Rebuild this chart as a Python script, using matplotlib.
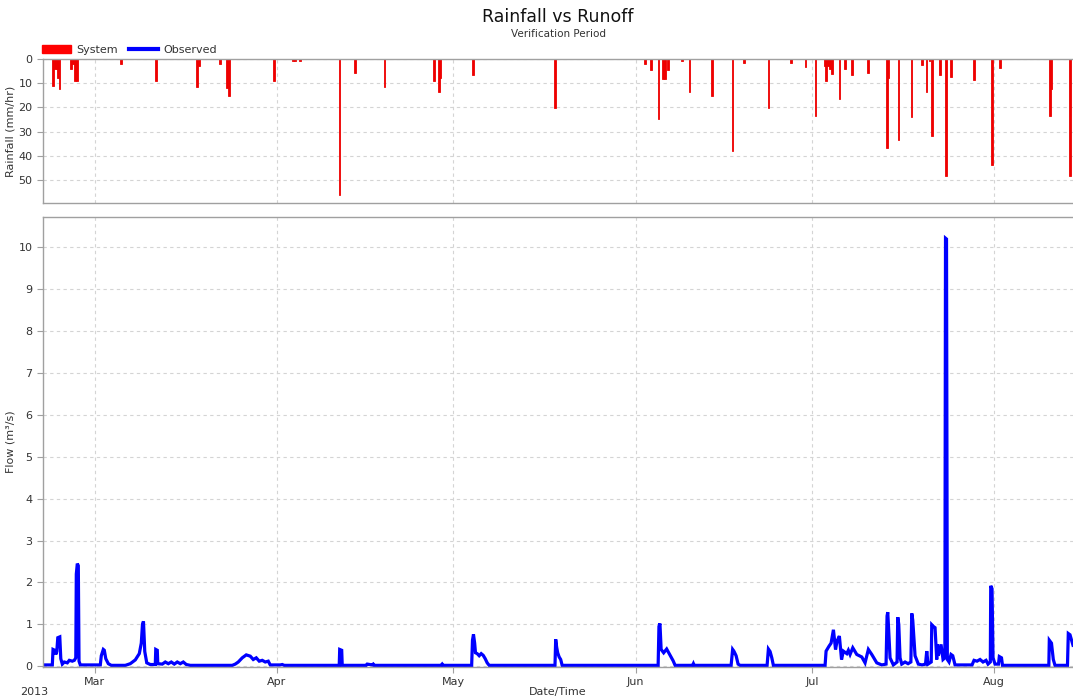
import numpy as np
import pandas as pd
import matplotlib
matplotlib.use("Agg")
import matplotlib.pyplot as plt
import matplotlib.dates as mdates
from matplotlib.patches import Patch
from matplotlib.lines import Line2D

# all times are days from 1 Mar 2013 00:00
start_day = -8.77
end_day = 166.38

rain_day = [-7.07, -6.68, -6.34, -6.17, -5.95, -3.96, -3.62, -3.28, -3.03, 4.49,
            10.44, 17.46, 17.80, 21.37, 22.56, 22.85, 30.55, 33.78, 34.12, 34.97,
            41.65, 44.32, 49.30, 57.75, 58.60, 58.77, 64.33, 78.32, 93.62, 94.59,
            95.89, 96.68, 97.02, 97.48, 99.86, 101.16, 104.96, 108.47, 110.46, 114.59,
            118.39, 120.88, 122.58, 124.23, 124.40, 124.74, 125.08, 125.42, 126.66, 127.63,
            128.77, 131.49, 134.72, 134.99, 136.69, 138.90, 140.72, 141.45, 141.96, 142.42,
            143.73, 144.75, 145.60, 149.56, 152.62, 153.98, 162.48, 162.73, 165.88]
rain_mm = [11.0, 4.0, 4.0, 7.7, 12.4, 4.0, 2.0, 9.3, 9.0, 2.0,
           9.3, 11.4, 3.0, 2.0, 12.0, 15.5, 8.9, 1.0, 1.0, 1.0,
           56.3, 5.9, 11.4, 8.9, 13.8, 7.8, 6.6, 20.3, 2.0, 4.5,
           25.0, 8.3, 8.3, 4.5, 1.0, 13.8, 15.2, 38.1, 1.5, 20.3,
           1.8, 3.1, 23.4, 3.0, 8.9, 3.0, 4.0, 6.2, 16.6, 4.2,
           6.6, 5.9, 36.7, 7.9, 33.6, 24.1, 2.5, 13.8, 1.0, 31.9,
           6.8, 48.6, 7.5, 8.6, 44.0, 3.8, 23.7, 12.5, 48.6]

flow_day = [-8.72, -7.19, -7.07, -6.77, -6.60, -6.43, -6.26, -5.92, -5.75, -5.49,
            -5.15, -4.64, -4.30, -3.79, -3.45, -3.20, -3.11, -2.94, -2.77, -2.65,
            -2.43, 0.97, 1.14, 1.48, 1.65, 1.90, 2.33, 2.84, 5.22, 6.07,
            6.92, 7.60, 7.94, 8.14, 8.31, 8.53, 8.87, 9.47, 10.32, 10.40,
            10.66, 10.74, 11.51, 12.02, 12.53, 13.04, 13.55, 14.06, 14.57, 15.08,
            15.59, 16.27, 23.41, 23.92, 24.43, 25.11, 25.79, 26.47, 26.98, 27.49,
            28.00, 28.51, 29.02, 29.53, 29.87, 31.57, 31.91, 32.25, 41.60, 41.68,
            42.02, 42.11, 46.19, 46.36, 47.21, 47.38, 47.55, 58.94, 59.11, 59.28,
            64.12, 64.26, 64.43, 64.63, 64.77, 65.06, 65.40, 65.74, 66.08, 66.42,
            66.76, 67.10, 78.29, 78.41, 78.58, 78.75, 79.00, 79.26, 79.51, 95.83,
            95.97, 96.14, 96.34, 96.77, 97.28, 97.79, 98.38, 98.72, 101.70, 101.83,
            101.95, 108.24, 108.50, 108.75, 109.09, 109.43, 109.77, 114.36, 114.58, 114.87,
            115.16, 115.43, 124.22, 124.39, 124.90, 125.24, 125.64, 126.00, 126.26, 126.65,
            127.02, 127.33, 127.91, 128.18, 128.47, 128.93, 129.61, 130.46, 131.02, 131.58,
            132.16, 133.01, 133.86, 134.59, 134.76, 134.88, 135.10, 135.27, 135.83, 136.46,
            136.58, 136.75, 136.97, 137.26, 137.82, 138.33, 138.81, 138.96, 139.13, 139.52,
            140.08, 140.71, 141.30, 141.51, 141.73, 142.27, 142.36, 142.63, 142.92, 143.21,
            143.31, 143.48, 143.94, 144.28, 144.59, 144.70, 144.87, 145.01, 145.30, 145.64,
            145.93, 146.32, 149.21, 149.55, 150.06, 150.57, 151.08, 151.59, 151.93, 152.32,
            152.39, 152.61, 152.78, 153.12, 153.71, 153.85, 154.22, 154.39, 162.27, 162.35,
            162.72, 163.03, 163.32, 165.44, 165.58, 165.87, 166.38]
flow_m3s = [0.03, 0.03, 0.40, 0.38, 0.28, 0.35, 0.68, 0.70, 0.18, 0.05,
            0.10, 0.08, 0.14, 0.12, 0.14, 0.20, 2.20, 2.45, 2.40, 0.12,
            0.03, 0.03, 0.25, 0.40, 0.38, 0.18, 0.06, 0.02, 0.02, 0.06,
            0.15, 0.30, 0.55, 1.00, 1.07, 0.35, 0.08, 0.04, 0.04, 0.40,
            0.38, 0.06, 0.05, 0.10, 0.06, 0.10, 0.05, 0.10, 0.06, 0.10,
            0.04, 0.02, 0.02, 0.05, 0.10, 0.20, 0.27, 0.24, 0.16, 0.20,
            0.12, 0.14, 0.10, 0.12, 0.03, 0.03, 0.04, 0.02, 0.02, 0.40,
            0.38, 0.02, 0.02, 0.05, 0.03, 0.05, 0.02, 0.02, 0.05, 0.02,
            0.02, 0.62, 0.76, 0.55, 0.32, 0.30, 0.25, 0.30, 0.26, 0.18,
            0.08, 0.02, 0.02, 0.64, 0.45, 0.32, 0.22, 0.16, 0.02, 0.02,
            0.95, 1.02, 0.40, 0.32, 0.41, 0.28, 0.13, 0.02, 0.02, 0.06,
            0.02, 0.02, 0.40, 0.35, 0.25, 0.05, 0.02, 0.02, 0.41, 0.35,
            0.20, 0.02, 0.02, 0.36, 0.48, 0.55, 0.87, 0.40, 0.60, 0.72,
            0.16, 0.36, 0.30, 0.38, 0.28, 0.44, 0.28, 0.22, 0.08, 0.40,
            0.28, 0.08, 0.03, 0.05, 1.20, 1.29, 0.70, 0.20, 0.03, 0.10,
            1.17, 1.00, 0.20, 0.05, 0.10, 0.06, 0.10, 1.26, 1.10, 0.25,
            0.05, 0.03, 0.05, 0.36, 0.05, 0.10, 0.99, 0.95, 0.92, 0.16,
            0.52, 0.25, 0.52, 0.16, 0.20, 10.22, 10.20, 0.16, 0.10, 0.28,
            0.25, 0.03, 0.03, 0.14, 0.12, 0.16, 0.10, 0.14, 0.05, 0.10,
            1.92, 1.85, 0.20, 0.05, 0.05, 0.23, 0.20, 0.02, 0.02, 0.62,
            0.55, 0.16, 0.02, 0.02, 0.78, 0.75, 0.50]

base = pd.Timestamp("2013-03-01")


def to_dates(days):
    return base + pd.to_timedelta(np.array(days), unit="D")


rain_t = to_dates(rain_day)
flow_t = to_dates(flow_day)
x0, x1 = to_dates([start_day, end_day])

plt.rcParams["font.family"] = ["DejaVu Sans"]
grey = "#a0a0a0"
txt = "#333333"

fig = plt.figure(figsize=(10.73, 7.0), dpi=100)
ax_r = fig.add_axes([0.0401, 0.7096, 0.9599, 0.2061])
ax_f = fig.add_axes([0.0401, 0.0471, 0.9599, 0.6425], sharex=ax_r)

ax_r.bar(rain_t, rain_mm, width=0.3, color="#ee0000", edgecolor="#ee0000",
         linewidth=0.6, align="center")
ax_r.set_ylim(59.7, 0)
ax_r.set_yticks([0, 10, 20, 30, 40, 50])
ax_r.set_ylabel("Rainfall (mm/hr)", fontsize=8, color=txt)
ax_r.yaxis.set_label_coords(-0.027, 0.5)

ax_f.plot(flow_t, flow_m3s, color="#0000ff", linewidth=2.3, solid_joinstyle="miter")
ax_f.set_ylim(-0.02, 10.72)
ax_f.set_yticks(range(0, 11))
ax_f.set_ylabel("Flow (m³/s)", fontsize=8, color=txt)
ax_f.yaxis.set_label_coords(-0.027, 0.5)

ax_f.set_xlim(x0, x1)
ax_f.xaxis.set_major_locator(mdates.MonthLocator())
ax_f.xaxis.set_major_formatter(mdates.DateFormatter("%b"))

for ax in (ax_r, ax_f):
    for s in ax.spines.values():
        s.set_color(grey)
        s.set_linewidth(1.0)
    ax.spines["right"].set_visible(False)
    ax.grid(True, color="#d4d4d4", linestyle=(0, (3, 3)), linewidth=0.8)
    ax.set_axisbelow(True)
    ax.tick_params(axis="both", colors=grey, labelcolor=txt, labelsize=8,
                   length=4, width=0.8)
ax_r.tick_params(axis="x", labelbottom=False, length=0)

fig.text(0.0401 + 0.9599 / 2, 1 - 17 / 700, "Rainfall vs Runoff", ha="center", va="center",
         fontsize=12.5, color="#111111")
fig.text(0.0401 + 0.9599 / 2, 1 - 34 / 700, "Verification Period", ha="center", va="center",
         fontsize=7.5, color=txt)
fig.text(0.5193, 1 - 692 / 700, "Date/Time", ha="center", va="center", fontsize=8, color=txt)
fig.text(0.0186, 1 - 692 / 700, "2013", ha="left", va="center", fontsize=8, color=txt)

handles = [Patch(facecolor="#ff0000", edgecolor="#ff0000", label="System"),
           Line2D([0], [0], color="#0000ff", linewidth=3, label="Observed")]
fig.legend(handles=handles, loc="center left", bbox_to_anchor=(0.030, 1 - 50 / 700),
           ncol=2, frameon=False, fontsize=8, handlelength=2.6, handleheight=0.8,
           columnspacing=1.0, handletextpad=0.5, labelcolor=txt)

fig.savefig("out.png", dpi=100)
